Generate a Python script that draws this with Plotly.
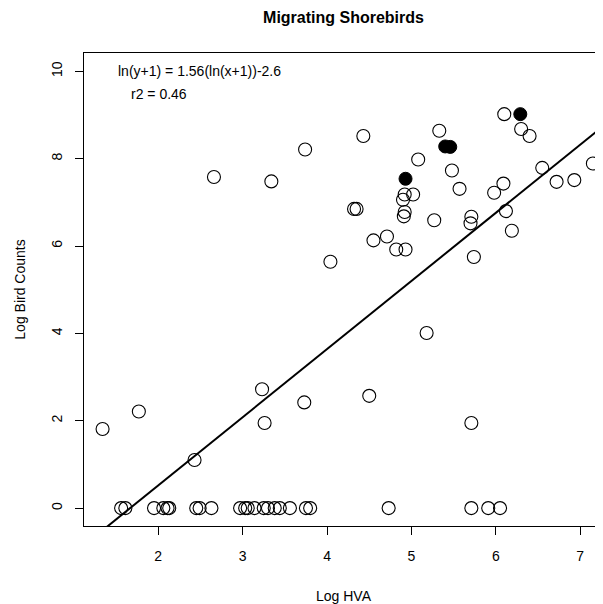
import plotly.graph_objects as go

# ---- data ----
zero_x = [1.56, 1.61, 1.95, 2.06, 2.11, 2.13, 2.45, 2.49, 2.63,
          2.97, 3.03, 3.06, 3.14, 3.25, 3.30, 3.38, 3.44, 3.56,
          3.75, 3.80, 4.73, 5.71, 5.91, 6.05]

open_x = [1.34, 1.77, 2.43, 3.23, 3.26, 3.73, 4.04, 4.50, 5.18, 5.71,
          2.66, 3.34, 3.74, 4.32, 4.35, 4.43, 4.55, 4.71, 4.82, 4.93,
          4.90, 4.92, 5.02, 4.92, 4.91, 5.08, 5.27, 5.33, 5.48, 5.57,
          5.70, 5.71, 5.74, 5.98, 6.09, 6.10, 6.12, 6.19, 6.30, 6.40,
          6.55, 6.72, 6.93, 7.15]
open_y = [1.81, 2.21, 1.10, 2.72, 1.95, 2.42, 5.64, 2.57, 4.01, 1.95,
          7.58, 7.48, 8.21, 6.85, 6.85, 8.52, 6.13, 6.22, 5.92, 5.92,
          7.06, 7.18, 7.18, 6.78, 6.68, 7.98, 6.59, 8.64, 7.73, 7.31,
          6.52, 6.67, 5.75, 7.22, 7.43, 9.02, 6.80, 6.35, 8.68, 8.52,
          7.79, 7.47, 7.51, 7.89]

filled_x = [4.93, 5.40, 5.46, 6.29]
filled_y = [7.54, 8.28, 8.27, 9.02]

slope = 1.56
intercept = -2.6

x_ticks = [2, 3, 4, 5, 6, 7]
y_ticks = [0, 2, 4, 6, 8, 10]

x_range = [1.12, 7.27]
y_range = [-0.41, 10.42]

title = "Migrating Shorebirds"
eq_text = "ln(y+1) = 1.56(ln(x+1))-2.6"
r2_text = "r2 = 0.46"

FONT = "Liberation Sans, Arial, sans-serif"

fig = go.Figure()

all_open_x = zero_x + open_x
all_open_y = [0] * len(zero_x) + open_y

fig.add_trace(go.Scatter(
    x=all_open_x, y=all_open_y, mode="markers",
    marker=dict(symbol="circle-open", size=13, color="black", line=dict(width=1.1, color="black")),
    showlegend=False, hoverinfo="skip"))

fig.add_trace(go.Scatter(
    x=filled_x, y=filled_y, mode="markers",
    marker=dict(symbol="circle", size=13, color="black", line=dict(width=1, color="black")),
    showlegend=False, hoverinfo="skip"))

line_x = x_range
line_y = [slope * v + intercept for v in line_x]
fig.add_trace(go.Scatter(
    x=line_x, y=line_y, mode="lines",
    line=dict(color="black", width=2),
    showlegend=False, hoverinfo="skip"))

fig.add_annotation(x=0.061, y=0.961, xref="paper", yref="paper", text=eq_text,
                   showarrow=False, xanchor="left", yanchor="middle",
                   font=dict(family=FONT, size=14, color="black"))
fig.add_annotation(x=0.086, y=0.914, xref="paper", yref="paper", text=r2_text,
                   showarrow=False, xanchor="left", yanchor="middle",
                   font=dict(family=FONT, size=14, color="black"))

# page body has an 8px default margin, so the figure is sized/offset to compensate
fig.update_layout(
    width=595, height=596,
    margin=dict(l=76, r=0, t=45, b=78, autoexpand=False),
    paper_bgcolor="white", plot_bgcolor="white",
    font=dict(family=FONT, size=14, color="black"),
    title=dict(text="<b>" + title + "</b>", x=0.5, xref="paper", xanchor="center",
               y=1 - 9 / 596, yref="container", yanchor="middle",
               font=dict(family=FONT, size=16, color="black")),
    xaxis=dict(range=x_range, tickvals=x_ticks, ticks="outside", ticklen=8,
               tickwidth=1, tickcolor="black", showgrid=False, zeroline=False,
               showline=True, linecolor="black", linewidth=1, mirror=True,
               ticklabelstandoff=9, automargin=False,
               title=dict(text="Log HVA", standoff=28, font=dict(size=14))),
    yaxis=dict(range=y_range, tickvals=y_ticks, ticks="outside", ticklen=8,
               tickwidth=1, tickcolor="black", showgrid=False, zeroline=False,
               showline=True, linecolor="black", linewidth=1, tickangle=-90,
               ticklabelstandoff=7, automargin=False,
               title=dict(text="Log Bird Counts", standoff=20, font=dict(size=14))),
)

fig.write_html("out.html")
